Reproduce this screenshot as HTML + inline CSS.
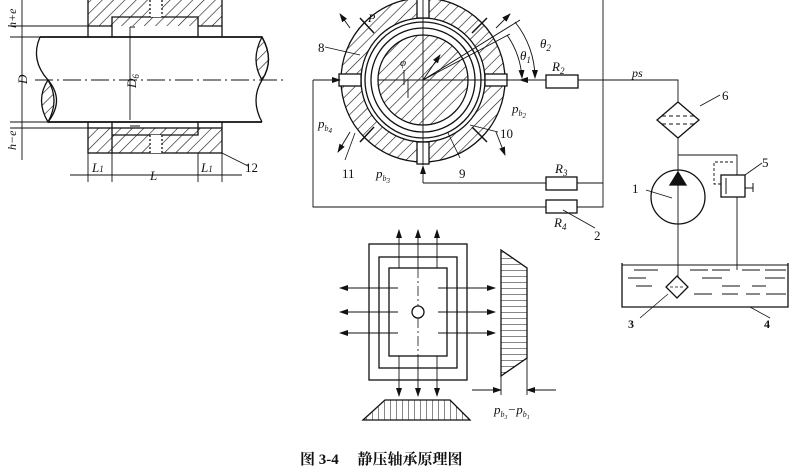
<!DOCTYPE html>
<html><head><meta charset="utf-8"><style>
html,body{margin:0;padding:0;background:#fff}
svg{display:block}
text{font-family:"Liberation Serif","Noto Serif CJK SC",serif;fill:#111}
.i{font-style:italic}
</style></head><body>
<svg width="790" height="474" viewBox="0 0 790 474" xmlns="http://www.w3.org/2000/svg">
<defs>
<pattern id="h" width="8" height="8" patternUnits="userSpaceOnUse" patternTransform="rotate(45)"><line x1="0" y1="0" x2="0" y2="8" stroke="#111" stroke-width="1.2"/></pattern>
<pattern id="hh" width="6" height="6" patternUnits="userSpaceOnUse"><line x1="0" y1="0" x2="6" y2="0" stroke="#111" stroke-width="1"/></pattern>
<pattern id="hv" width="6" height="6" patternUnits="userSpaceOnUse"><line x1="0" y1="0" x2="0" y2="6" stroke="#111" stroke-width="1"/></pattern>
<marker id="a" markerWidth="9" markerHeight="6" refX="8" refY="3" orient="auto" markerUnits="userSpaceOnUse"><path d="M0,0L9,3L0,6z" fill="#111"/></marker>
</defs>
<g stroke="#111" fill="none" stroke-width="1.3">
<!-- left figure -->
<rect x="88" y="0" width="134" height="26" fill="url(#h)" stroke="none"/>
<path d="M88,0V37 M222,0V37 M112,37V17H198V37 M88,26H112 M198,26H222"/>
<rect x="150" y="0" width="12" height="17" fill="#fff" stroke="none"/>
<path d="M150,0V17 M162,0V17" stroke-dasharray="2,2"/>
<path d="M40,37H262 M48,122H262" stroke-width="1.8"/>
<path d="M40,37 Q30,60 48,80 Q65,100 48,122"/>
<path d="M262,37 Q275,60 262,80 Q250,100 262,122"/>
<path d="M48,80 Q60,100 48,122 Q35,100 48,80z" fill="url(#h)"/>
<path d="M262,37 Q275,60 262,80 Q250,60 262,37z" fill="url(#h)"/>
<path d="M35,80H285" stroke-dasharray="18,4,2,4" stroke-width="0.9"/>
<rect x="88" y="128" width="134" height="25" fill="url(#h)"/>
<path d="M88,122V128 M222,122V128 M112,122V135H198V122 M112,135V153"/>
<rect x="150" y="135" width="12" height="18" fill="#fff" stroke="none"/>
<path d="M150,135V153 M162,135V153" stroke-dasharray="2,2"/>
<path d="M22,0V160 M10,37H88 M10,122H88 M10,26H88 M10,128H88" stroke-width="0.9"/>
<path d="M130,27V120 M130,27H135 M130,126H140" stroke-width="0.9"/>
<path d="M88,153V182 M112,153V182 M198,153V182 M222,153V182 M70,175H242" stroke-width="0.9"/>
<path d="M222,153L248,166" stroke-width="0.9"/>
</g>
<g font-size="13">
<text x="16" y="28" class="i" transform="rotate(-90 16 28)" font-size="12">h+e</text>
<text x="16" y="150" class="i" transform="rotate(-90 16 150)" font-size="12">h−e</text>
<text x="27" y="84" class="i" transform="rotate(-90 27 84)">D</text>
<text x="136" y="88" class="i" transform="rotate(-90 136 88)">D<tspan font-size="9" dy="3">6</tspan></text>
<text x="92" y="172" class="i">L<tspan font-size="9">1</tspan></text>
<text x="150" y="180" class="i">L</text>
<text x="201" y="172" class="i">L<tspan font-size="9">1</tspan></text>
<text x="245" y="172">12</text>
</g>
<!-- bearing circle -->
<g stroke="#111" fill="none" stroke-width="1.3">
<circle cx="423" cy="80" r="82" fill="url(#h)"/>
<circle cx="423" cy="80" r="62" fill="#fff"/>
<circle cx="423" cy="80" r="58"/>
<circle cx="423" cy="80" r="52"/>
<circle cx="423" cy="80" r="45" fill="url(#h)"/>
<g fill="#fff">
<rect x="417" y="-4" width="12" height="22"/>
<rect x="417" y="142" width="12" height="22"/>
<rect x="339" y="74" width="22" height="12"/>
<rect x="485" y="74" width="22" height="12"/>
</g>
<path d="M423,-5V165 M378,80H520" stroke-width="0.9"/>
<path d="M374,33L360,18 M472,33L487,18 M374,127L360,142 M472,127L487,142" stroke-width="1.5"/>
<g stroke-width="0.9" marker-end="url(#a)">
<path d="M350,28L340,14"/><path d="M496,28L510,14"/><path d="M350,132L338,152"/><path d="M496,132L505,155"/>
<path d="M515,22 A90,90 0 0,1 535,78"/>
<path d="M507,35 A85,85 0 0,1 522,78"/>
<path d="M423,80L440,55"/>
<path d="M546,80H520"/>
<path d="M313,80H340"/>
<path d="M423,183V166"/>
</g>
<path d="M423,80L520,20 M423,80L510,34" stroke-width="0.9"/>
<path d="M408,80V98 M404,70V85" stroke-width="0.9"/>
<path d="M313,80V207H546 M577,207H603V0 M577,183H603 M546,183H423" stroke-width="0.9"/>
<rect x="546" y="75" width="32" height="13"/>
<rect x="546" y="177" width="31" height="13"/>
<rect x="546" y="200" width="31" height="13"/>
<path d="M578,80H678V103" stroke-width="0.9"/>
<path d="M563,210L595,228 M325,47L360,55 M470,125L498,132 M355,133L345,160 M448,133L460,158" stroke-width="0.8"/>
<!-- hydraulic -->
<path d="M678,102L699,120L678,138L657,120z"/>
<path d="M662,116H694 M662,124H694" stroke-dasharray="4,3" stroke-width="1"/>
<path d="M678,138V290 M678,155H737V175 M737,197V270" stroke-width="0.9"/>
<circle cx="678" cy="197" r="27"/>
<path d="M670,185H686L678,172z" fill="#111"/>
<rect x="721" y="175" width="24" height="22"/>
<path d="M726,178V194 M745,188H753 M753,183V192" stroke-width="1"/>
<path d="M733,162H714V184H721" stroke-dasharray="3,2" stroke-width="0.9"/>
<path d="M745,175L762,163 M700,106L720,95 M646,190L672,198" stroke-width="0.8"/>
<path d="M622,263V307H788V263" stroke-width="1.3"/>
<path d="M622,265H788" stroke-width="0.9"/>
<path d="M677,276L688,287L677,298L666,287z" fill="#fff"/>
<path d="M670,287H684" stroke-dasharray="3,2" stroke-width="0.8"/>
<path d="M634,270H658 M690,270H708 M712,270H730 M742,270H760 M765,270H786 M628,278H646 M702,278H722 M765,278H785 M636,286H652 M722,286H740 M752,286H766 M694,294H712 M722,294H738 M746,294H760 M766,294H786" stroke-width="0.9"/>
<path d="M668,294L640,318 M750,307L770,318" stroke-width="0.8"/>
<!-- bottom figure -->
<rect x="369" y="244" width="98" height="136"/>
<rect x="379" y="257" width="78" height="111"/>
<rect x="389" y="268" width="58" height="88"/>
<circle cx="418" cy="312" r="6"/>
<path d="M418,268V306 M418,318V356" stroke-dasharray="10,3,2,3" stroke-width="0.8"/>
<g stroke-width="0.9" marker-end="url(#a)">
<path d="M399,268V230"/><path d="M418,268V230"/><path d="M437,268V230"/>
<path d="M399,356V396"/><path d="M418,356V396"/><path d="M437,356V396"/>
<path d="M398,288H340"/><path d="M398,312H340"/><path d="M398,333H340"/>
<path d="M438,288H495"/><path d="M438,312H495"/><path d="M438,333H495"/>
<path d="M472,390H501"/>
<path d="M556,390H527"/>
</g>
<path d="M501,250L527,268V358L501,376z" fill="url(#hh)"/>
<path d="M501,376V395 M527,358V395" stroke-width="0.9"/>
<path d="M363,420L385,400H450L470,420z" fill="url(#hv)"/>
</g>
<g font-size="13">
<text x="318" y="52">8</text>
<text x="368" y="22" class="i" font-size="12">P</text>
<text x="400" y="66" class="i" font-size="11">φ</text>
<text x="540" y="48" class="i">θ<tspan font-size="9" dy="3">2</tspan></text>
<text x="520" y="60" class="i">θ<tspan font-size="9" dy="3">1</tspan></text>
<text x="552" y="71" class="i">R<tspan font-size="9" dy="3">2</tspan></text>
<text x="632" y="77" class="i" font-size="12">ps</text>
<text x="512" y="113" class="i">p<tspan font-size="8" dy="3">b</tspan><tspan font-size="7" dy="2">2</tspan></text>
<text x="318" y="128" class="i">p<tspan font-size="8" dy="3">b</tspan><tspan font-size="7" dy="2">4</tspan></text>
<text x="500" y="138">10</text>
<text x="342" y="178">11</text>
<text x="376" y="178" class="i">p<tspan font-size="8" dy="3">b</tspan><tspan font-size="7" dy="2">3</tspan></text>
<text x="459" y="178">9</text>
<text x="555" y="173" class="i">R<tspan font-size="9" dy="3">3</tspan></text>
<text x="554" y="227" class="i">R<tspan font-size="9" dy="3">4</tspan></text>
<text x="594" y="240">2</text>
<text x="722" y="100">6</text>
<text x="762" y="167">5</text>
<text x="632" y="193">1</text>
<text x="628" y="328" font-weight="bold" font-size="12">3</text>
<text x="764" y="328" font-weight="bold" font-size="12">4</text>
<text x="494" y="414" class="i">p<tspan font-size="8" dy="3">b</tspan><tspan font-size="6" dy="2">3</tspan><tspan dy="-5">−</tspan>p<tspan font-size="8" dy="3">b</tspan><tspan font-size="6" dy="2">1</tspan></text>
<text x="300" y="464" font-family="'Noto Serif CJK SC','Noto Sans CJK SC',serif" font-weight="bold" font-size="15">图 3-4　 静压轴承原理图</text>
</g>
</svg>
</body></html>
